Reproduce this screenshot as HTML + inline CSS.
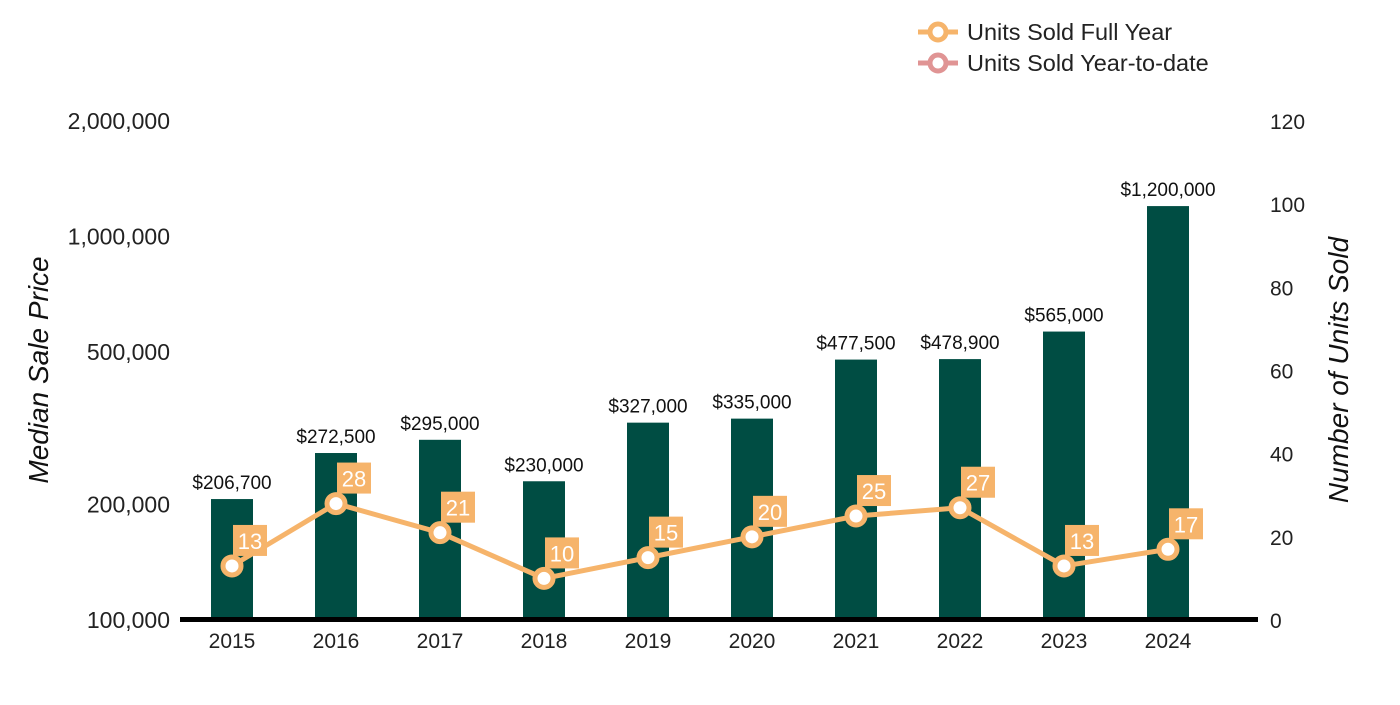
<!DOCTYPE html>
<html><head><meta charset="utf-8"><style>
body{margin:0;background:#fff;}
svg text{font-family:"Liberation Sans",Arial,sans-serif;}
</style></head><body>
<svg id="chart" width="1400" height="700" viewBox="0 0 1400 700">
<g id="legend">
  <g>
    <line x1="918" y1="32" x2="958" y2="32" stroke="#f6b46b" stroke-width="5"/>
    <circle cx="938" cy="32" r="8" fill="#fff" stroke="#f6b46b" stroke-width="5"/>
    <text x="967" y="40" font-size="23.5" fill="#222">Units Sold Full Year</text>
  </g>
  <g>
    <line x1="918" y1="63" x2="958" y2="63" stroke="#e09494" stroke-width="5"/>
    <circle cx="938" cy="63" r="8" fill="#fff" stroke="#e09494" stroke-width="5"/>
    <text x="967" y="71" font-size="23.5" fill="#222">Units Sold Year-to-date</text>
  </g>
</g>
<text x="48" y="370" font-size="28" font-style="italic" fill="#111" transform="rotate(-90 48 370)" text-anchor="middle">Median Sale Price</text>
<text x="1348" y="370" font-size="28" font-style="italic" fill="#111" transform="rotate(-90 1348 370)" text-anchor="middle">Number of Units Sold</text>
<g id="left-ticks"></g>
<g id="right-ticks"></g>
<g id="bars"></g>
<rect x="180" y="617" width="1078" height="5" fill="#000"/>
<g id="xlabels"></g>
<g id="line"></g>
</svg>
<script>
const years=["2015","2016","2017","2018","2019","2020","2021","2022","2023","2024"];
const prices=[206700,272500,295000,230000,327000,335000,477500,478900,565000,1200000];
const priceLabels=["$206,700","$272,500","$295,000","$230,000","$327,000","$335,000","$477,500","$478,900","$565,000","$1,200,000"];
const units=[13,28,21,10,15,20,25,27,13,17];
const leftTicks=[100000,200000,500000,1000000,2000000];
const leftTickLabels=["100,000","200,000","500,000","1,000,000","2,000,000"];
const rightTicks=[0,20,40,60,80,100,120];

const NS="http://www.w3.org/2000/svg";
const yBase=620,yTop=121;
function yL(v){return yBase-(Math.log10(v/100000)/Math.log10(20))*(yBase-yTop);}
function yR(v){return yBase-v/120*(yBase-yTop);}
function xC(i){return 232+i*104;}
function mk(tag,attrs,parent,txt){const e=document.createElementNS(NS,tag);for(const k in attrs)e.setAttribute(k,attrs[k]);if(txt!==undefined)e.textContent=txt;parent.appendChild(e);return e;}

const lt=document.getElementById('left-ticks');
leftTicks.forEach((v,i)=>{const t=mk('text',{x:170,y:yL(v)+8,'font-size':23,'text-anchor':'end',fill:'#222'},lt,leftTickLabels[i]);

});
const rt=document.getElementById('right-ticks');
rightTicks.forEach(v=>{const t=mk('text',{x:1270,y:yR(v)+8,'font-size':21,fill:'#222'},rt,String(v));

});

const bars=document.getElementById('bars');
const xl=document.getElementById('xlabels');
years.forEach((y,i)=>{
  const top=yL(prices[i]);
  const r=mk('rect',{x:xC(i)-21,y:top,width:42,height:yBase-top,fill:'#004d43'},bars);
  
  
  const l=mk('text',{x:xC(i),y:top-10,'font-size':19,'text-anchor':'middle',fill:'#111'},bars,priceLabels[i]);
  
  
  const xt=mk('text',{x:xC(i),y:648,'font-size':21,'text-anchor':'middle',fill:'#222'},xl,y);
  
  
});

const lg=document.getElementById('line');
const pts=units.map((u,i)=>xC(i)+','+yR(u)).join(' ');
const pl=mk('polyline',{points:pts,fill:'none',stroke:'#f6b46b','stroke-width':5,'stroke-linejoin':'round'},lg);


units.forEach((u,i)=>{
  const cx=xC(i),cy=yR(u);
  const c=mk('circle',{cx:cx,cy:cy,r:9,fill:'#fff',stroke:'#f6b46b','stroke-width':5},lg);
  
  
  const b=mk('rect',{x:cx+1,y:cy-41,width:34,height:31,fill:'#f6b46b'},lg);
  
  
  const t=mk('text',{x:cx+18,y:cy-17,'font-size':22,'text-anchor':'middle',fill:'#fff'},lg,String(u));
  
  
});
</script>
</body></html>
